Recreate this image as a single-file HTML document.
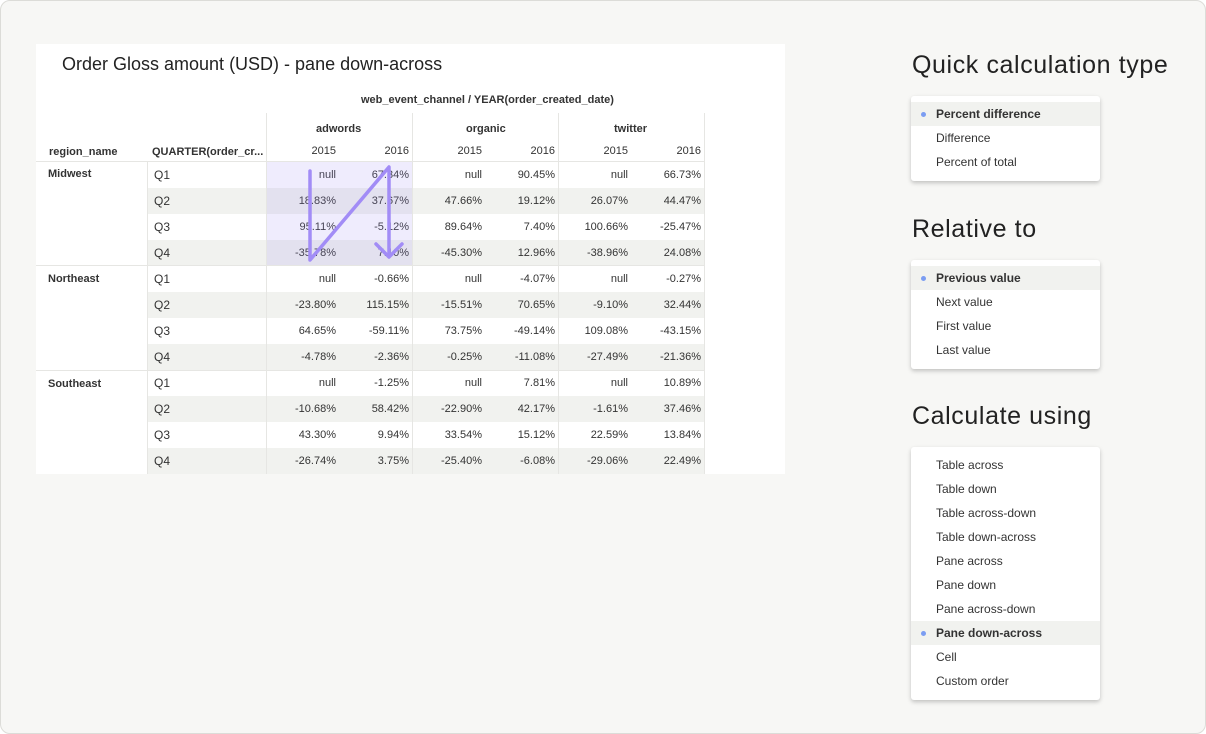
<!DOCTYPE html>
<html><head><meta charset="utf-8"><style>
*{margin:0;padding:0;box-sizing:border-box}
body{width:1206px;height:734px;background:#fff;font-family:"Liberation Sans",sans-serif;position:relative;overflow:hidden}
.frame{position:absolute;left:0;top:0;width:1206px;height:734px;background:#f7f7f5;border:1px solid #dcdcd8;border-radius:10px}
.panel{position:absolute;left:36px;top:44px;width:749px;height:430px;background:#fff;overflow:hidden}
.abs{position:absolute}
.row{position:absolute;left:111px;width:557px;height:26px;display:flex;font-size:11px;color:#333;line-height:26px}
.row.g{background:#f1f2ef}
.row div{width:73px;text-align:right;padding-right:3px}
.row div:first-child{width:119px;text-align:left;padding-left:7px;font-size:12px}
.hl{position:absolute;left:230px;width:146px;height:26px;background:rgba(160,140,245,.18)}
.vl{position:absolute;width:1px;background:#e6e6e3}
.hln{position:absolute;height:1px;left:0;width:668px;background:#e6e6e3}
.h{font-size:11px;color:#333;font-weight:bold;position:absolute}
.title{position:absolute;left:912px;font-size:25px;color:#222;font-weight:500;letter-spacing:0.6px}
.box{position:absolute;left:911px;width:189px;background:#fff;border-radius:3px;box-shadow:0 2px 4px rgba(0,0,0,.22);padding-top:6px}
.it{height:24px;line-height:24px;font-size:12px;color:#333;padding-left:25px;position:relative}
.it.s{background:#f1f2ef;font-weight:600}
.it.s:before{content:"";position:absolute;left:10px;top:10px;width:5px;height:5px;border-radius:50%;background:#7b9df2}
</style></head><body>
<div class="frame"></div>
<div class="panel">
<div class="abs" style="left:26px;top:10px;font-size:18px;color:#222">Order Gloss amount (USD) - pane down-across</div>
<div class="h" style="left:325px;top:50px">web_event_channel / YEAR(order_created_date)</div>
<div class="h" style="left:280px;top:79px">adwords</div>
<div class="h" style="left:430px;top:79px">organic</div>
<div class="h" style="left:578px;top:79px">twitter</div>
<div class="h" style="left:13px;top:102px">region_name</div>
<div class="h" style="left:116px;top:102px">QUARTER(order_cr...</div>
<div class="abs" style="left:230px;top:101px;width:438px;display:flex;font-size:11px;color:#333">
<div style="width:73px;text-align:right;padding-right:3px">2015</div><div style="width:73px;text-align:right;padding-right:3px">2016</div><div style="width:73px;text-align:right;padding-right:3px">2015</div><div style="width:73px;text-align:right;padding-right:3px">2016</div><div style="width:73px;text-align:right;padding-right:3px">2015</div><div style="width:73px;text-align:right;padding-right:3px">2016</div></div>

<div class="row" style="top:118px"><div>Q1</div><div>null</div><div>67.34%</div><div>null</div><div>90.45%</div><div>null</div><div>66.73%</div></div>
<div class="row g" style="top:144px"><div>Q2</div><div>18.83%</div><div>37.67%</div><div>47.66%</div><div>19.12%</div><div>26.07%</div><div>44.47%</div></div>
<div class="row" style="top:170px"><div>Q3</div><div>95.11%</div><div>-5.12%</div><div>89.64%</div><div>7.40%</div><div>100.66%</div><div>-25.47%</div></div>
<div class="row g" style="top:196px"><div>Q4</div><div>-35.78%</div><div>7.10%</div><div>-45.30%</div><div>12.96%</div><div>-38.96%</div><div>24.08%</div></div>

<div class="row" style="top:222px"><div>Q1</div><div>null</div><div>-0.66%</div><div>null</div><div>-4.07%</div><div>null</div><div>-0.27%</div></div>
<div class="row g" style="top:248px"><div>Q2</div><div>-23.80%</div><div>115.15%</div><div>-15.51%</div><div>70.65%</div><div>-9.10%</div><div>32.44%</div></div>
<div class="row" style="top:274px"><div>Q3</div><div>64.65%</div><div>-59.11%</div><div>73.75%</div><div>-49.14%</div><div>109.08%</div><div>-43.15%</div></div>
<div class="row g" style="top:300px"><div>Q4</div><div>-4.78%</div><div>-2.36%</div><div>-0.25%</div><div>-11.08%</div><div>-27.49%</div><div>-21.36%</div></div>

<div class="row" style="top:326px"><div>Q1</div><div>null</div><div>-1.25%</div><div>null</div><div>7.81%</div><div>null</div><div>10.89%</div></div>
<div class="row g" style="top:352px"><div>Q2</div><div>-10.68%</div><div>58.42%</div><div>-22.90%</div><div>42.17%</div><div>-1.61%</div><div>37.46%</div></div>
<div class="row" style="top:378px"><div>Q3</div><div>43.30%</div><div>9.94%</div><div>33.54%</div><div>15.12%</div><div>22.59%</div><div>13.84%</div></div>
<div class="row g" style="top:404px"><div>Q4</div><div>-26.74%</div><div>3.75%</div><div>-25.40%</div><div>-6.08%</div><div>-29.06%</div><div>22.49%</div></div>

<div class="hl" style="top:118px;height:103px;background:rgba(160,140,245,.17)"></div>

<div class="h" style="left:12px;top:124px">Midwest</div>
<div class="h" style="left:12px;top:229px">Northeast</div>
<div class="h" style="left:12px;top:334px">Southeast</div>

<div class="hln" style="top:117px"></div>
<div class="hln" style="top:221px"></div>
<div class="hln" style="top:326px"></div>
<div class="vl" style="left:111px;top:118px;height:320px"></div>
<div class="vl" style="left:230px;top:69px;height:370px"></div>
<div class="vl" style="left:376px;top:69px;height:370px"></div>
<div class="vl" style="left:522px;top:69px;height:370px"></div>
<div class="vl" style="left:668px;top:69px;height:370px"></div>

<svg class="abs" style="left:0;top:0" width="749" height="430">
<g stroke="#a28cf6" stroke-width="3.5" fill="none" stroke-linecap="round" stroke-linejoin="round">
<polyline points="274,127 274,216 353,123 353,212"/>
<polyline points="340,200 353,213 366,200"/>
</g>
</svg>
</div>

<div class="title" style="top:51px">Quick calculation type</div>
<div class="box" style="top:96px;height:85px">
<div class="it s">Percent difference</div><div class="it">Difference</div><div class="it">Percent of total</div></div>

<div class="title" style="top:215px">Relative to</div>
<div class="box" style="top:260px;height:109px">
<div class="it s">Previous value</div><div class="it">Next value</div><div class="it">First value</div><div class="it">Last value</div></div>

<div class="title" style="top:402px">Calculate using</div>
<div class="box" style="top:447px;height:253px;padding-top:6px">
<div class="it">Table across</div><div class="it">Table down</div><div class="it">Table across-down</div><div class="it">Table down-across</div><div class="it">Pane across</div><div class="it">Pane down</div><div class="it">Pane across-down</div><div class="it s">Pane down-across</div><div class="it">Cell</div><div class="it">Custom order</div></div>
</body></html>
